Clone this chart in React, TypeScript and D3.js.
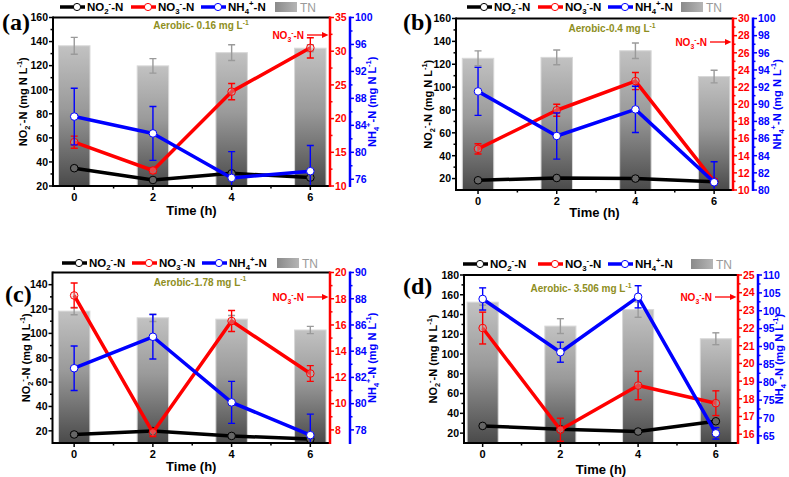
import React from 'react';
import * as d3 from 'd3';

// ---------- data ----------
const times = [0, 2, 4, 6];

// panel (a) Aerobic 0.16
const tnA = [136.5, 119.8, 130.8, 134.5];
const tnErrA = [7, 6, 6.5, 3];
const no2A = [34.8, 25, 30.5, 27];
const no2ErrA = [1.2, 1, 1, 1];
const no3A = [16.5, 12.3, 24.0, 30.5];
const no3ErrA = [0.9, 0.4, 1.2, 1.5];
const nh4A = [85.3, 82.8, 76.2, 77.2];
const nh4ErrA = [4.2, 4.0, 3.9, 3.8];

// panel (b) Aerobic 0.4
const tnB = [125.2, 126, 131.8, 109.2];
const tnErrB = [6.5, 6.5, 6.8, 5.5];
const no2B = [18.5, 20.5, 20, 17.3];
const no2ErrB = [1, 1, 1, 1];
const no3B = [14.8, 19.3, 22.7, 11.0];
const no3ErrB = [0.6, 0.7, 1.0, 0.3];
const nh4B = [91.5, 86.3, 89.4, 80.9];
const nh4ErrB = [2.8, 2.7, 2.7, 2.4];

// panel (c) Aerobic 1.78
const tnC = [118.3, 112.8, 111.7, 102.8];
const tnErrC = [3, 3, 3, 3];
const no2C = [17, 19.8, 15.8, 13.2];
const no2ErrC = [1.5, 1.5, 1.5, 1.5];
const no3C = [18.25, 7.8, 16.3, 12.3];
const no3ErrC = [0.95, 0.3, 0.8, 0.6];
const nh4C = [82.7, 85.1, 80.1, 77.6];
const nh4ErrC = [1.7, 1.7, 1.6, 1.6];

// panel (d) Aerobic 3.506
const tnD = [152.5, 128.3, 145, 115.5];
const tnErrD = [3, 7.5, 7.8, 6];
const no2D = [27.3, 24, 21.6, 32];
const no2ErrD = [1, 1, 1, 1];
const no3D = [22.0, 16.25, 18.75, 17.75];
const no3ErrD = [0.9, 0.65, 0.8, 0.7];
const nh4D = [103.3, 88.4, 103.9, 65.7];
const nh4ErrD = [3.1, 2.8, 3.1, 1.6];

// tick labels
const xTicks = [0, 2, 4, 6];
const xMinor = [1, 3, 5];
const leftTicksA = [20, 40, 60, 80, 100, 120, 140, 160];
const leftTicksB = [20, 40, 60, 80, 100, 120, 140, 160];
const leftTicksC = [20, 40, 60, 80, 100, 120, 140];
const leftTicksD = [20, 40, 60, 80, 100, 120, 140, 160, 180];
const redTicksA = [10, 15, 20, 25, 30, 35];
const redTicksB = [10, 12, 14, 16, 18, 20, 22, 24, 26, 28, 30];
const redTicksC = [8, 10, 12, 14, 16, 18, 20];
const redTicksD = [16, 17, 18, 19, 20, 21, 22, 23, 24, 25];
const blueTicksA = [76, 80, 84, 88, 92, 96, 100];
const blueTicksB = [80, 82, 84, 86, 88, 90, 92, 94, 96, 98, 100];
const blueTicksC = [78, 80, 82, 84, 86, 88, 90];
const blueTicksD = [65, 70, 75, 80, 85, 90, 95, 100, 105, 110];
const panelLetters = ['(a)', '(b)', '(c)', '(d)'];
const aerobicLabels = ['Aerobic- 0.16 mg L', 'Aerobic-0.4 mg L', 'Aerobic-1.78 mg L', 'Aerobic- 3.506 mg L'];

const RED = '#ff0000';
const BLUE = '#0000ff';
const OLIVE = '#8e8e22';
const FONT = '"Liberation Sans", Arial, sans-serif';

type Part = [string, 'n' | 'b' | 'p'];

function rich(parts: Part[], fs: number) {
  let cur = 0;
  const out: any[] = [];
  parts.forEach(([t, k], i) => {
    let target = 0;
    let size = fs;
    if (k === 'b') { target = fs * 0.3; size = fs * 0.68; }
    if (k === 'p') { target = -fs * 0.42; size = fs * 0.68; }
    const dy = target - cur;
    cur = target;
    out.push(
      <tspan key={i} dy={dy} fontSize={size}>{t}</tspan>
    );
  });
  return out;
}

const NO2: Part[] = [['NO', 'n'], ['2', 'b'], ['-', 'p'], ['-N', 'n']];
const NO3: Part[] = [['NO', 'n'], ['3', 'b'], ['-', 'p'], ['-N', 'n']];
const NH4: Part[] = [['NH', 'n'], ['4', 'b'], ['+', 'p'], ['-N', 'n']];
const UNIT: Part[] = [[' (mg N L', 'n'], ['-1', 'p'], [')', 'n']];

type PanelCfg = {
  tn: number[]; tnErr: number[];
  no2: number[]; no2Err: number[];
  no3: number[]; no3Err: number[];
  nh4: number[]; nh4Err: number[];
  left: number; right: number; top: number; bottom: number; blueX: number;
  xDomain: [number, number];
  leftDomain: [number, number]; redDomain: [number, number]; blueDomain: [number, number];
  leftTicks: number[]; redTicks: number[]; blueTicks: number[];
  letter: string; letterX: number; letterY: number;
  aerobic: string; aerobicX: number; aerobicY: number;
  legendY: number; legendX: number[];
  arrowY: number;
  leftLabelX: number; rightLabelX: number; timeY: number;
};

const panels: PanelCfg[] = [
  {
    tn: tnA, tnErr: tnErrA, no2: no2A, no2Err: no2ErrA, no3: no3A, no3Err: no3ErrA, nh4: nh4A, nh4Err: nh4ErrA,
    left: 53, right: 330, top: 17.5, bottom: 186, blueX: 350,
    xDomain: [-0.54, 6.5], leftDomain: [20, 160], redDomain: [10, 35], blueDomain: [75, 100],
    leftTicks: leftTicksA, redTicks: redTicksA, blueTicks: blueTicksA,
    letter: panelLetters[0], letterX: 2, letterY: 30,
    aerobic: aerobicLabels[0], aerobicX: 201, aerobicY: 29,
    legendY: 7, legendX: [60, 131, 201, 275], arrowY: 35,
    leftLabelX: 27, rightLabelX: 376, timeY: 215,
  },
  {
    tn: tnB, tnErr: tnErrB, no2: no2B, no2Err: no2ErrB, no3: no3B, no3Err: no3ErrB, nh4: nh4B, nh4Err: nh4ErrB,
    left: 456, right: 733, top: 18.5, bottom: 190, blueX: 753,
    xDomain: [-0.56, 6.48], leftDomain: [10, 160], redDomain: [10, 30], blueDomain: [80, 100],
    leftTicks: leftTicksB, redTicks: redTicksB, blueTicks: blueTicksB,
    letter: panelLetters[1], letterX: 403, letterY: 30,
    aerobic: aerobicLabels[1], aerobicX: 612, aerobicY: 32,
    legendY: 7, legendX: [467, 538, 608, 681], arrowY: 42,
    leftLabelX: 432, rightLabelX: 781, timeY: 217,
  },
  {
    tn: tnC, tnErr: tnErrC, no2: no2C, no2Err: no2ErrC, no3: no3C, no3Err: no3ErrC, nh4: nh4C, nh4Err: nh4ErrC,
    left: 52.5, right: 330, top: 272.5, bottom: 443, blueX: 350,
    xDomain: [-0.55, 6.5], leftDomain: [10, 150], redDomain: [7, 20], blueDomain: [77, 90],
    leftTicks: leftTicksC, redTicks: redTicksC, blueTicks: blueTicksC,
    letter: panelLetters[2], letterX: 5, letterY: 302,
    aerobic: aerobicLabels[2], aerobicX: 200, aerobicY: 285.5,
    legendY: 263, legendX: [62, 132, 202, 277], arrowY: 297,
    leftLabelX: 30, rightLabelX: 376, timeY: 471,
  },
  {
    tn: tnD, tnErr: tnErrD, no2: no2D, no2Err: no2ErrD, no3: no3D, no3Err: no3ErrD, nh4: nh4D, nh4Err: nh4ErrD,
    left: 464, right: 738, top: 275, bottom: 443, blueX: 758,
    xDomain: [-0.48, 6.57], leftDomain: [10, 180], redDomain: [15.5, 25], blueDomain: [63, 110],
    leftTicks: leftTicksD, redTicks: redTicksD, blueTicks: blueTicksD,
    letter: panelLetters[3], letterX: 403, letterY: 294,
    aerobic: aerobicLabels[3], aerobicX: 581, aerobicY: 292,
    legendY: 264, legendX: [463, 538, 608, 691], arrowY: 297,
    leftLabelX: 437, rightLabelX: 783, timeY: 474,
  },
];

function minorOf(ticks: number[]) {
  const res: number[] = [];
  for (let i = 0; i < ticks.length - 1; i++) res.push((ticks[i] + ticks[i + 1]) / 2);
  return res;
}

function ErrBars({ xs, ys, errs, scale, color, w }: any) {
  return (
    <g stroke={color} strokeWidth={1.4} fill="none">
      {ys.map((v: number, i: number) => {
        const cx = xs[i];
        const y1 = scale(v + errs[i]);
        const y2 = scale(v - errs[i]);
        return (
          <g key={i}>
            <line x1={cx} x2={cx} y1={y1} y2={y2} />
            <line x1={cx - w} x2={cx + w} y1={y1} y2={y1} />
            <line x1={cx - w} x2={cx + w} y1={y2} y2={y2} />
          </g>
        );
      })}
    </g>
  );
}

function Series({ xs, ys, errs, scale, color, fill }: any) {
  const path = d3.line<number>().x((_, i) => xs[i]).y((d) => scale(d))(ys) || '';
  return (
    <g>
      <ErrBars xs={xs} ys={ys} errs={errs} scale={scale} color={color} w={3.5} />
      <path d={path} stroke={color} strokeWidth={3.5} fill="none" strokeLinejoin="round" />
      {ys.map((v: number, i: number) => (
        <circle key={i} cx={xs[i]} cy={scale(v)} r={3.8} fill={fill} stroke={color} strokeWidth={1} />
      ))}
    </g>
  );
}

function Panel({ p, idx }: { p: PanelCfg; idx: number }) {
  const x = d3.scaleLinear().domain(p.xDomain).range([p.left, p.right]);
  const yL = d3.scaleLinear().domain(p.leftDomain).range([p.bottom, p.top]);
  const yR = d3.scaleLinear().domain(p.redDomain).range([p.bottom, p.top]);
  const yB = d3.scaleLinear().domain(p.blueDomain).range([p.bottom, p.top]);
  const xs = times.map((t) => x(t));
  const barW = x(0.8) - x(0);
  const fs = 10.5;
  const midY = (p.top + p.bottom) / 2;
  const midX = (p.left + p.right) / 2;
  const lx = p.legendX;
  const ly = p.legendY;
  const clipId = `clip${idx}`;

  return (
    <g fontFamily={FONT} fontWeight="bold">
      <defs>
        <clipPath id={clipId}>
          <rect x={p.left} y={p.top} width={p.right - p.left} height={p.bottom - p.top} />
        </clipPath>
      </defs>
      <g clipPath={`url(#${clipId})`}>
        {p.tn.map((v, i) => (
          <rect key={i} x={xs[i] - barW / 2} y={yL(v)} width={barW} height={p.bottom - yL(v)}
            fill="url(#tnGrad)" stroke="#d8d8d8" strokeWidth={1} />
        ))}
        <ErrBars xs={xs} ys={p.tn} errs={p.tnErr} scale={yL} color="#9a9a9a" w={3.5} />

        <Series xs={xs} ys={p.no2} errs={p.no2Err} scale={yL} color="#000" fill="#666" />
        <Series xs={xs} ys={p.no3} errs={p.no3Err} scale={yR} color={RED} fill="rgba(200,200,200,0.35)" />
        <Series xs={xs} ys={p.nh4} errs={p.nh4Err} scale={yB} color={BLUE} fill="#fff" />
      </g>

      <line x1={p.left} x2={p.right} y1={p.top} y2={p.top} stroke="#000" strokeWidth={2} />
      <line x1={p.left} x2={p.right} y1={p.bottom} y2={p.bottom} stroke="#000" strokeWidth={2} />
      {xTicks.map((t) => (
        <g key={t}>
          <line x1={x(t)} x2={x(t)} y1={p.bottom} y2={p.bottom + 4} stroke="#000" strokeWidth={1.5} />
          <text x={x(t)} y={p.bottom + 15} textAnchor="middle" fontSize={11}>{t}</text>
        </g>
      ))}
      {xMinor.map((t) => (
        <line key={t} x1={x(t)} x2={x(t)} y1={p.bottom} y2={p.bottom + 2.5} stroke="#000" strokeWidth={1.5} />
      ))}
      <text x={midX} y={p.timeY} textAnchor="middle" fontSize={13}>Time (h)</text>

      <line x1={p.left} x2={p.left} y1={p.top - 1} y2={p.bottom + 1} stroke="#000" strokeWidth={2} />
      {p.leftTicks.map((t) => (
        <g key={t}>
          <line x1={p.left - 4} x2={p.left} y1={yL(t)} y2={yL(t)} stroke="#000" strokeWidth={1.5} />
          <text x={p.left - 5} y={yL(t) + 3.8} textAnchor="end" fontSize={fs}>{t}</text>
        </g>
      ))}
      {minorOf(p.leftTicks).map((t) => (
        <line key={t} x1={p.left - 2.5} x2={p.left} y1={yL(t)} y2={yL(t)} stroke="#000" strokeWidth={1.5} />
      ))}
      <text transform={`translate(${p.leftLabelX},${midY}) rotate(-90)`} textAnchor="middle" fontSize={11}>
        {rich([...NO2, ...UNIT], 11)}
      </text>

      <line x1={p.right} x2={p.right} y1={p.top - 1} y2={p.bottom + 1} stroke={RED} strokeWidth={2.5} />
      {p.redTicks.map((t) => (
        <g key={t}>
          <line x1={p.right} x2={p.right + 4} y1={yR(t)} y2={yR(t)} stroke={RED} strokeWidth={1.5} />
          <text x={p.right + 5} y={yR(t) + 3.8} fill={RED} fontSize={fs}>{t}</text>
        </g>
      ))}
      {minorOf(p.redTicks).map((t) => (
        <line key={t} x1={p.right} x2={p.right + 2.5} y1={yR(t)} y2={yR(t)} stroke={RED} strokeWidth={1.5} />
      ))}

      <line x1={p.blueX} x2={p.blueX} y1={p.top - 1} y2={p.bottom + 1} stroke={BLUE} strokeWidth={2.5} />
      {p.blueTicks.map((t) => (
        <g key={t}>
          <line x1={p.blueX} x2={p.blueX + 4} y1={yB(t)} y2={yB(t)} stroke={BLUE} strokeWidth={1.5} />
          <text x={p.blueX + 5} y={yB(t) + 3.8} fill={BLUE} fontSize={fs}>{t}</text>
        </g>
      ))}
      {minorOf(p.blueTicks).map((t) => (
        <line key={t} x1={p.blueX} x2={p.blueX + 2.5} y1={yB(t)} y2={yB(t)} stroke={BLUE} strokeWidth={1.5} />
      ))}
      <text transform={`translate(${p.rightLabelX},${midY}) rotate(-90)`} textAnchor="middle" fontSize={11} fill={BLUE}>
        {rich([...NH4, ...UNIT], 11)}
      </text>

      <text x={p.letterX} y={p.letterY} fontFamily='"Liberation Serif", "Times New Roman", serif' fontWeight="bold" fontSize={24}>{p.letter}</text>

      <text x={p.aerobicX} y={p.aerobicY} textAnchor="middle" fill={OLIVE} fontSize={10}>
        {rich([[p.aerobic, 'n'], ['-1', 'p']], 10)}
      </text>

      <text x={p.right - 26} y={p.arrowY + 4} textAnchor="end" fill={RED} fontSize={10}>
        {rich(NO3, 10)}
      </text>
      <line x1={p.right - 23} x2={p.right - 6} y1={p.arrowY} y2={p.arrowY} stroke={RED} strokeWidth={1.3} />
      <path d={`M${p.right - 1.5},${p.arrowY} L${p.right - 8},${p.arrowY - 3} L${p.right - 8},${p.arrowY + 3} Z`} fill={RED} />

      {[
        { c: '#000', parts: NO2, fill: '#fff' },
        { c: RED, parts: NO3, fill: '#fff' },
        { c: BLUE, parts: NH4, fill: '#fff' },
      ].map((it, i) => (
        <g key={i}>
          <line x1={lx[i]} x2={lx[i] + 25} y1={ly} y2={ly} stroke={it.c} strokeWidth={3.5} />
          <circle cx={lx[i] + 17} cy={ly} r={3.6} fill={it.fill} stroke={it.c} strokeWidth={1} />
          <text x={lx[i] + 27} y={ly + 4} fontSize={11.5}>{rich(it.parts, 11.5)}</text>
        </g>
      ))}
      <rect x={lx[3]} y={ly - 5} width={22} height={10} fill="url(#tnGradH)" />
      <text x={lx[3] + 25} y={ly + 4.5} fontSize={12} fill="#9a9a9a" fontWeight="normal">TN</text>
    </g>
  );
}

export default function App() {
  return (
    <svg width={789} height={477} style={{ position: 'absolute', left: 0, top: 0, background: '#fff' }}>
      <defs>
        <linearGradient id="tnGrad" x1="0" y1="0" x2="0" y2="1">
          <stop offset="0" stopColor="#c2c2c2" />
          <stop offset="0.45" stopColor="#9a9a9a" />
          <stop offset="1" stopColor="#4a4a4a" />
        </linearGradient>
        <linearGradient id="tnGradH" x1="0" y1="0" x2="1" y2="0">
          <stop offset="0" stopColor="#8a8a8a" />
          <stop offset="1" stopColor="#b5b5b5" />
        </linearGradient>
      </defs>
      <rect x={0} y={0} width={789} height={477} fill="#fff" />
      {panels.map((p, i) => (
        <Panel key={i} p={p} idx={i} />
      ))}
    </svg>
  );
}
